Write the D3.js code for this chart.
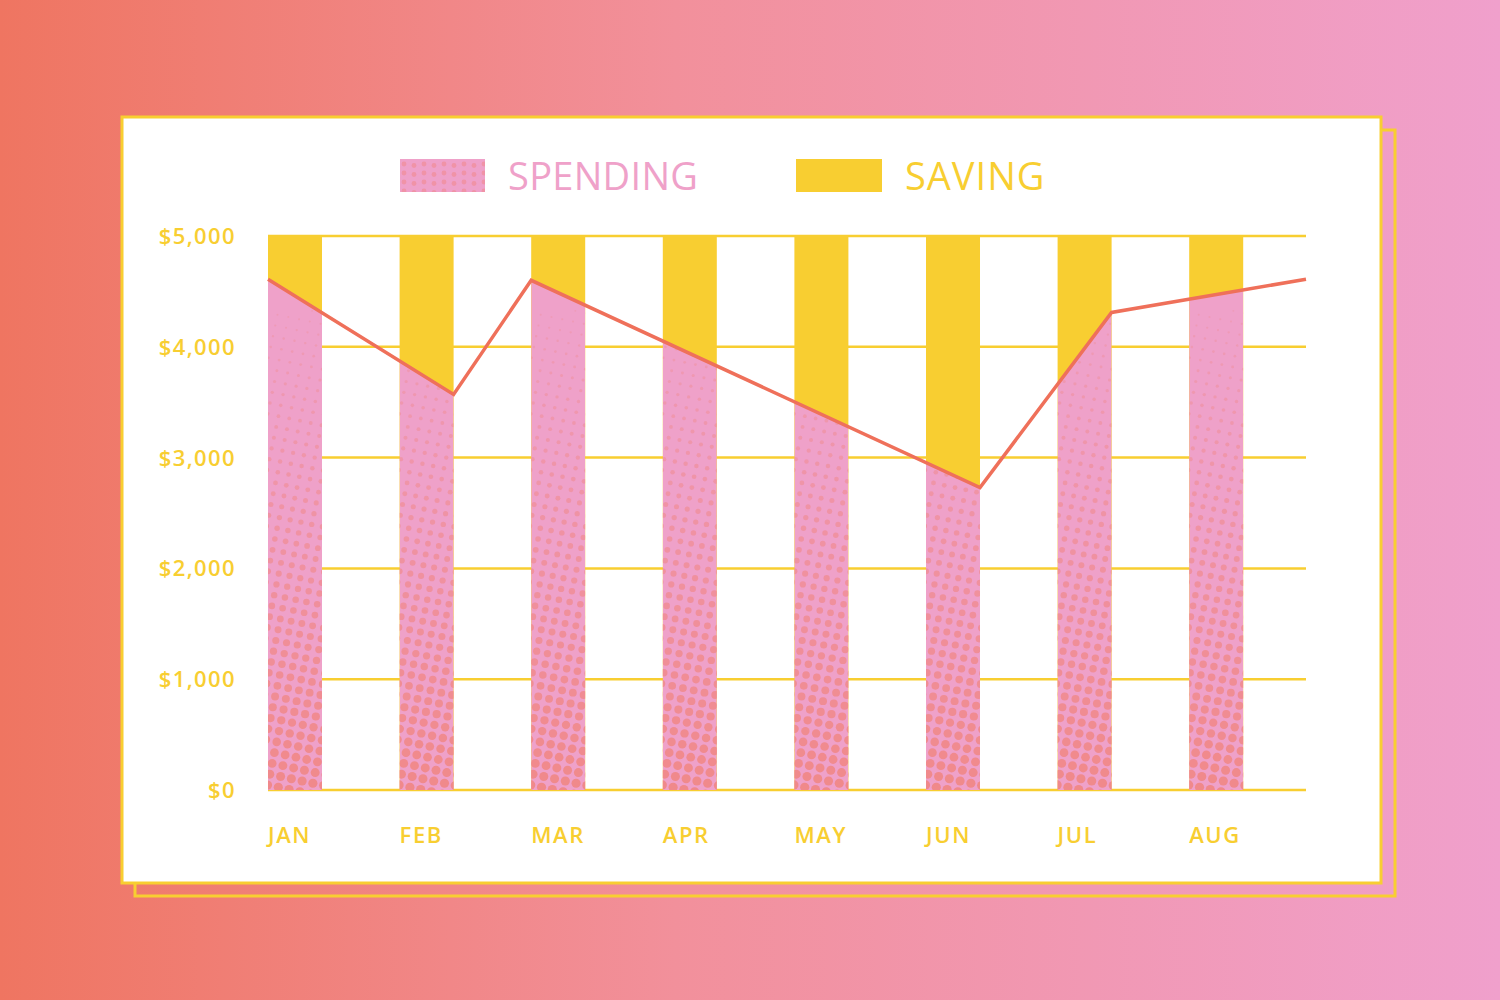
<!DOCTYPE html>
<html>
<head>
<meta charset="utf-8">
<script src="https://cdn.jsdelivr.net/npm/d3@7/dist/d3.min.js"></script>
<style>
  html, body { margin: 0; padding: 0; }
  body { width: 1500px; height: 1000px; overflow: hidden; }
  svg { display: block; }
  text { font-family: "Open Sans", "Noto Sans", sans-serif; }
</style>
</head>
<body>
<script>
// ---------- data ----------
const months = ["JAN", "FEB", "MAR", "APR", "MAY", "JUN", "JUL", "AUG"];
const budget = [5000, 5000, 5000, 5000, 5000, 5000, 5000, 5000];   // saving bars (full height)
const yTicks = [0, 1000, 2000, 3000, 4000, 5000];
// spending line vertices: anchored at bar edges
const lineMonth = ["JAN", "FEB", "MAR", "JUN", "JUL", "END"];
const lineEdge  = ["left", "right", "left", "right", "right", "right"];
const lineValue = [4610, 3570, 4600, 2730, 4310, 4610];
const legendLabels = ["SPENDING", "SAVING"];

// ---------- style ----------
const YELLOW = "#F8CE31";
const PINK = "#EFA1C9";
const DOT = "#F0898A";
const LINE = "#EF705A";

const W = 1500, H = 1000;
const svg = d3.select("body").append("svg").attr("width", W).attr("height", H);
const defs = svg.append("defs");

// background gradient
const bg = defs.append("linearGradient").attr("id", "bg").attr("x1", "0").attr("x2", "1").attr("y1", "0").attr("y2", "0");
bg.append("stop").attr("offset", "0").attr("stop-color", "#EF7561");
bg.append("stop").attr("offset", "0.45").attr("stop-color", "#F2909B");
bg.append("stop").attr("offset", "1").attr("stop-color", "#F0A0CC");
svg.append("rect").attr("width", W).attr("height", H).attr("fill", "url(#bg)");

// card shadow outline + card
svg.append("rect").attr("x", 135).attr("y", 130).attr("width", 1260).attr("height", 766)
  .attr("fill", "none").attr("stroke", YELLOW).attr("stroke-width", 3);
svg.append("rect").attr("x", 122).attr("y", 117).attr("width", 1259).attr("height", 766)
  .attr("fill", "#fff").attr("stroke", YELLOW).attr("stroke-width", 3);

// ---------- scales ----------
const plotLeft = 268, plotRight = 1306, y0 = 790, y1 = 236;
const step = 131.6, bw = 54;
const x = d3.scaleBand().domain(months)
  .range([plotLeft, plotLeft + step * (months.length - 1) + bw])
  .paddingInner(1 - bw / step).paddingOuter(0).align(0);
const y = d3.scaleLinear().domain([0, 5000]).range([y0, y1]);

const lineX = (m, e) => m === "END" ? plotRight : (e === "left" ? x(m) : x(m) + x.bandwidth());
const linePts = lineMonth.map((m, i) => [lineX(m, lineEdge[i]), y(lineValue[i])]);

// ---------- gridlines ----------
svg.append("g").selectAll("line").data(yTicks).join("line")
  .attr("x1", plotLeft).attr("x2", plotRight)
  .attr("y1", d => y(d)).attr("y2", d => y(d))
  .attr("stroke", YELLOW).attr("stroke-width", 2.5);

// y labels
svg.append("g").selectAll("text").data(yTicks).join("text")
  .attr("x", 236).attr("y", d => y(d)).attr("dy", "0.36em")
  .attr("text-anchor", "end").attr("fill", YELLOW)
  .attr("font-size", 22).attr("font-weight", 600).attr("letter-spacing", 1.4)
  .text(d => "$" + d3.format(",")(d));

// month labels
svg.append("g").selectAll("text").data(months).join("text")
  .attr("x", d => x(d)).attr("y", 843)
  .attr("fill", YELLOW).attr("font-size", 22).attr("font-weight", 600).attr("letter-spacing", 1.6)
  .text(d => d);

// ---------- saving bars (full) ----------
svg.append("g").selectAll("rect").data(months).join("rect")
  .attr("x", d => x(d)).attr("width", x.bandwidth())
  .attr("y", (d, i) => y(budget[i])).attr("height", (d, i) => y(0) - y(budget[i]))
  .attr("fill", YELLOW);

// ---------- spending (clipped under line) ----------
const area = d3.area().x(d => d[0]).y0(y0).y1(d => d[1]);
defs.append("clipPath").attr("id", "underLine")
  .append("path").attr("d", area(linePts));
const barsClip = defs.append("clipPath").attr("id", "barsClip");
barsClip.selectAll("rect").data(months).join("rect")
  .attr("x", d => x(d)).attr("width", x.bandwidth())
  .attr("y", (d, i) => y(budget[i])).attr("height", (d, i) => y(0) - y(budget[i]));

const spendG = svg.append("g").attr("clip-path", "url(#underLine)")
  .append("g").attr("clip-path", "url(#barsClip)");
spendG.selectAll("rect").data(months).join("rect")
  .attr("x", d => x(d)).attr("width", x.bandwidth())
  .attr("y", y1).attr("height", y0 - y1)
  .attr("fill", PINK);

// halftone dots
function halftone(g, x0, yTop, w, yBot, spacing, ang) {
  const a = ang * Math.PI / 180;
  const cx = x0 + w / 2, cy = (yTop + yBot) / 2;
  const R = Math.hypot(w, yBot - yTop) / 2 + spacing;
  const pts = [];
  for (let u = -R; u <= R; u += spacing) {
    for (let v = -R; v <= R; v += spacing) {
      const px = cx + u * Math.cos(a) - v * Math.sin(a);
      const py = cy + u * Math.sin(a) + v * Math.cos(a);
      if (px < x0 - 5 || px > x0 + w + 5 || py < yTop || py > yBot + 5) continue;
      const t = Math.max(0, Math.min(1, (py - 300) / (yBot - 300)));
      if (t <= 0.02) continue;
      pts.push({ px, py, r: 0.8 + 3.8 * Math.pow(t, 0.9), o: 0.25 + 0.75 * t });
    }
  }
  g.append("g").selectAll("circle").data(pts).join("circle")
    .attr("cx", d => d.px).attr("cy", d => d.py).attr("r", d => d.r)
    .attr("fill", DOT).attr("opacity", d => d.o);
}
months.forEach(m => halftone(spendG, x(m), y1, x.bandwidth(), y0, 11, 12));

// spending line
svg.append("path").attr("d", d3.line()(linePts))
  .attr("fill", "none").attr("stroke", LINE).attr("stroke-width", 3.5)
  .attr("stroke-linejoin", "miter");

// ---------- legend ----------
const lg = svg.append("g");
defs.append("clipPath").attr("id", "legClip").append("rect")
  .attr("x", 400).attr("y", 159).attr("width", 85).attr("height", 33);
lg.append("rect").attr("x", 400).attr("y", 159).attr("width", 85).attr("height", 33).attr("fill", PINK);
const legDots = lg.append("g").attr("clip-path", "url(#legClip)");
const legPts = [];
for (let i = 0; i < 9; i++) for (let j = 0; j < 4; j++) legPts.push([404 + i * 10, 164 + j * 9 + (i % 2) * 1.5]);
legDots.selectAll("circle").data(legPts).join("circle")
  .attr("cx", d => d[0]).attr("cy", d => d[1]).attr("r", 2.4).attr("fill", DOT).attr("opacity", 0.55);
lg.append("text").attr("x", 508).attr("y", 190).attr("fill", PINK)
  .attr("font-size", 38).attr("font-weight", 500).attr("letter-spacing", 0.3).text(legendLabels[0]);
lg.append("rect").attr("x", 796).attr("y", 159).attr("width", 86).attr("height", 33).attr("fill", YELLOW);
lg.append("text").attr("x", 905).attr("y", 190).attr("fill", YELLOW)
  .attr("font-size", 38).attr("font-weight", 500).attr("letter-spacing", 1).text(legendLabels[1]);
</script>
</body>
</html>
